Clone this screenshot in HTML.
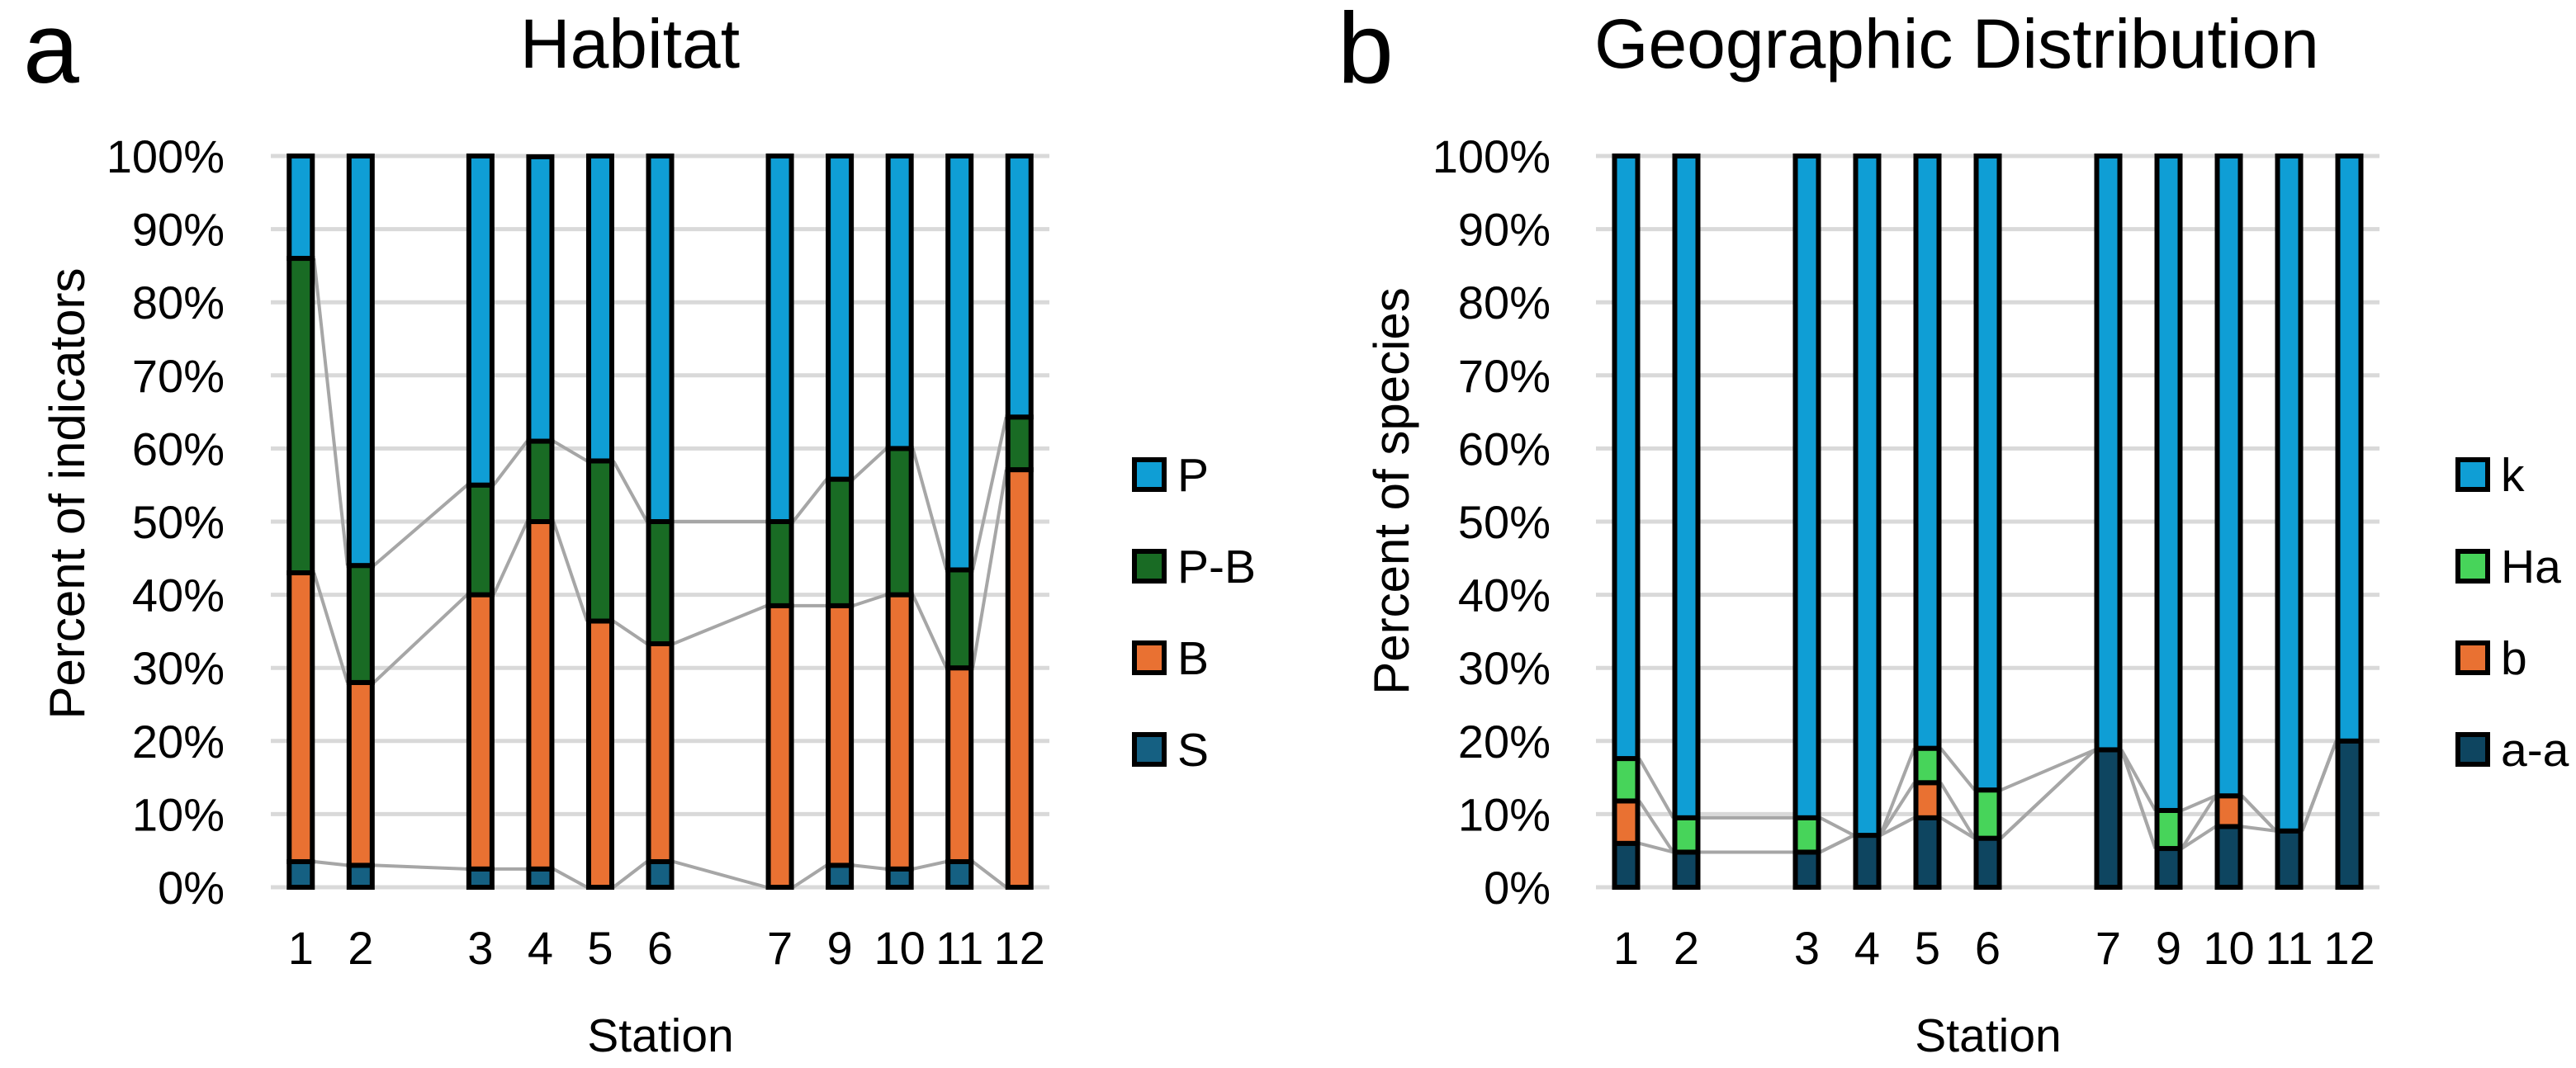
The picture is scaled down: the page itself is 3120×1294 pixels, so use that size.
<!DOCTYPE html>
<html><head><meta charset="utf-8"><style>
html,body{margin:0;padding:0;background:#fff;}
svg text{font-family:"Liberation Sans",sans-serif;fill:#000;}
</style></head><body>
<svg id="chart" width="3120" height="1289" viewBox="0 0 3120 1289" xmlns="http://www.w3.org/2000/svg"></svg>
<script>
const categories = ["1","2","","3","4","5","6","","7","9","10","11","12"];
// Panel a (Habitat) segment values in percent, bottom to top
const aNames = ["S","B","P-B","P"];
const aS  = [3.5,3,null,2.5,2.5,0,3.5,null,0,3,2.5,3.5,0];
const aB  = [39.5,25,null,37.5,47.5,36.4,29.8,null,38.5,35.5,37.5,26.5,57.1];
const aPB = [43,16,null,15,11,21.9,16.7,null,11.5,17.3,20,13.4,7.2];
const aP  = [14,56,null,45,38.9,41.7,50,null,50,44.2,40,56.6,35.7];
// Panel b (Geographic Distribution)
const bNames = ["a-a","b","Ha","k"];
const bAA = [6,4.8,null,4.8,7.1,9.5,6.7,null,18.8,5.3,8.3,7.7,20];
const bB  = [5.8,0,null,0,0,4.8,0,null,0,0,4.2,0,0];
const bHa = [5.8,4.7,null,4.7,0,4.7,6.6,null,0,5.2,0,0,0];
const bK  = [82.4,90.5,null,90.5,92.9,81,86.7,null,81.2,89.5,87.5,92.3,80];
const yTicks = ["0%","10%","20%","30%","40%","50%","60%","70%","80%","90%","100%"];

const NS="http://www.w3.org/2000/svg";
const svg=document.getElementById('chart');
function mk(tag,attrs,parent){const e=document.createElementNS(NS,tag);for(const k in attrs)e.setAttribute(k,attrs[k]);(parent||svg).appendChild(e);return e;}

function panel(o){
  const g=mk('g',{});
  
  
  const y0=1075,y1=189;
  const yScale=v=>y0-(v/100)*(y0-y1);
  const step=(o.x1-o.x0)/categories.length;
  const xScale=i=>o.x0+step*(i+0.5);
  yTicks.forEach((t,i)=>{
    const v=i*10;
    const l=mk('line',{x1:o.x0,x2:o.x1,y1:yScale(v),y2:yScale(v),stroke:'#d9d9d9','stroke-width':5},g);
    
    
    const tx=mk('text',{x:o.yLabelX,y:yScale(v)+20,'font-size':56,'text-anchor':'end'},g);
    tx.textContent=t;
    
    
  });
  categories.forEach((c,i)=>{
    if(!c)return;
    const tx=mk('text',{x:xScale(i),y:1168,'font-size':56,'text-anchor':'middle'},g);
    tx.textContent=c;
    
    
  });
  const bw=28;
  const idx=categories.map((c,i)=>c?i:-1).filter(i=>i>=0);
  const cum=o.series.map((s,si)=>categories.map((c,i)=>{let t=0;for(let k=0;k<=si;k++)t+=(o.series[k][i]||0);return t;}));
  for(let si=0;si<o.series.length-1;si++){
    for(let j=0;j<idx.length-1;j++){
      const a=idx[j],b=idx[j+1];
      const l=mk('line',{x1:xScale(a)+bw/2+2,y1:yScale(cum[si][a]),x2:xScale(b)-bw/2-2,y2:yScale(cum[si][b]),stroke:'#a6a6a6','stroke-width':4},g);
      
      
    }
  }
  categories.forEach((c,i)=>{
    if(!c)return;
    let base=0;
    o.series.forEach((s,si)=>{
      const v=s[i]||0;
      if(v>0){
        const r=mk('rect',{x:xScale(i)-bw/2,y:yScale(base+v),width:bw,height:yScale(base)-yScale(base+v),fill:o.colors[si],stroke:'#000','stroke-width':6},g);
        
        
      }
      base+=v;
    });
  });
  const ly=[908,797,686,575];
  o.names.forEach((n,si)=>{
    const r=mk('rect',{x:o.legX,y:ly[si]-18,width:36,height:36,fill:o.colors[si],stroke:'#000','stroke-width':6},g);
    
    
    const t=mk('text',{x:o.legX+52,y:ly[si]+20,'font-size':57},g);
    t.textContent=n;
    
    
  });
  const title=mk('text',{x:o.titleX,y:82,'font-size':84,'text-anchor':'middle'},g);
  title.textContent=o.title;
  
  
  const letter=mk('text',{x:o.letterX,y:100,'font-size':122},g);
  letter.textContent=o.letter;
  
  
  const yt=mk('text',{x:0,y:0,'font-size':60,'text-anchor':'middle',transform:`translate(${o.yTitleX},${o.yTitleY}) rotate(-90)`},g);
  yt.textContent=o.yTitle;
  
  
  const xt=mk('text',{x:o.stationX,y:1274,'font-size':57,'text-anchor':'middle'},g);
  xt.textContent='Station';
  
  
}
panel({key:'habitat',x0:328,x1:1271,yLabelX:272,series:[aS,aB,aPB,aP],names:aNames,
  colors:['#156082','#e97132','#196b24','#0f9ed5'],legX:1374,title:'Habitat',titleX:763,
  letter:'a',letterX:28,yTitle:'Percent of indicators',yTitleX:102,yTitleY:598,stationX:800});
panel({key:'geographic',x0:1933,x1:2882,yLabelX:1878,series:[bAA,bB,bHa,bK],names:bNames,
  colors:['#0e4560','#e97132','#47d45a','#0f9ed5'],legX:2977,title:'Geographic Distribution',titleX:2370,
  letter:'b',letterX:1620,yTitle:'Percent of species',yTitleX:1706,yTitleY:595,stationX:2408});
</script>
</body></html>
